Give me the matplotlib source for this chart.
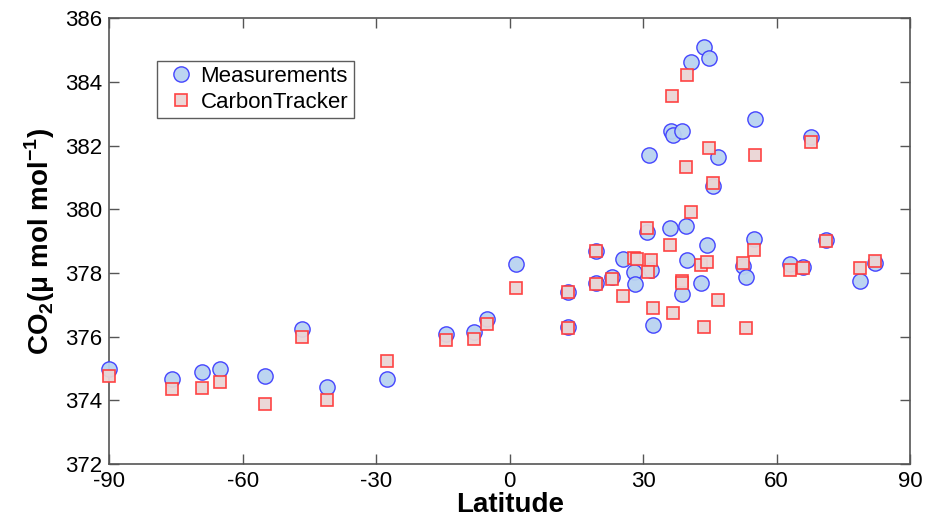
import numpy as np
import matplotlib
matplotlib.use("Agg")
import matplotlib.pyplot as plt

plt.rcParams['font.family'] = ['Liberation Sans', 'DejaVu Sans']
plt.rcParams['mathtext.fontset'] = 'custom'
plt.rcParams['mathtext.rm'] = 'Liberation Sans'
plt.rcParams['mathtext.bf'] = 'Liberation Sans:bold'
plt.rcParams['axes.unicode_minus'] = False

# --- DATA ---
lat_meas = [-90, -75.9, -69.1, -65.1, -55.0, -46.7, -41.0, -27.5, -14.4, -8.1, -5.0,
            1.5, 13.0, 13.1, 19.3, 19.3, 23.0, 25.5, 27.9, 28.1, 31.8, 30.8, 31.2,
            32.1, 36.1, 36.3, 36.6, 38.8, 39.6, 39.8, 38.7, 40.8, 42.9, 43.7, 44.3,
            44.7, 45.8, 46.7, 52.4, 53.0, 54.8, 55.1, 63.0, 65.8, 67.7, 71.0, 78.7, 82.2]
co2_meas = [374.98, 374.68, 374.89, 374.98, 374.75, 376.24, 374.41, 374.67, 376.08,
            376.16, 376.56, 378.28, 377.39, 376.29, 378.68, 377.67, 377.86, 378.43,
            378.03, 377.65, 378.10, 379.27, 381.71, 376.36, 379.40, 382.46, 382.33,
            382.45, 379.48, 378.41, 377.34, 384.63, 377.67, 385.08, 378.89, 384.74,
            380.73, 381.64, 378.22, 377.88, 379.05, 382.82, 378.28, 378.19, 382.27,
            379.04, 377.75, 378.32]

lat_ct = [-90, -75.9, -69.1, -65.1, -55.0, -46.7, -41.0, -27.5, -14.4, -8.1, -5.0,
          1.5, 13.0, 13.1, 19.3, 19.3, 23.0, 25.5, 27.9, 28.6, 31.8, 31.1, 30.8,
          32.1, 36.1, 36.6, 36.5, 39.8, 39.6, 40.7, 38.7, 38.8, 43.0, 44.3, 43.7,
          44.8, 45.8, 46.8, 52.4, 53.1, 54.8, 55.2, 63.0, 65.8, 67.7, 71.0, 78.7, 82.2]
co2_ct = [374.75, 374.36, 374.40, 374.58, 373.89, 375.99, 374.01, 375.23, 375.88,
          375.93, 376.39, 377.54, 377.40, 376.27, 378.68, 377.64, 377.80, 377.27,
          378.48, 378.45, 378.41, 378.03, 379.42, 376.91, 378.87, 376.75, 383.57,
          384.23, 381.33, 379.90, 377.74, 377.68, 378.26, 378.34, 376.31, 381.92,
          380.81, 377.15, 378.31, 376.27, 378.72, 381.70, 378.09, 378.17, 382.10,
          379.01, 378.15, 378.36]

x_ticks = [-90, -60, -30, 0, 30, 60, 90]
y_ticks = [372, 374, 376, 378, 380, 382, 384, 386]

fig = plt.figure(figsize=(9.25, 5.19), dpi=100)
ax = fig.add_axes([0.118, 0.106, 0.866, 0.859])

ax.plot(lat_meas, co2_meas, 'o', ms=11, mfc='#b9d3f1', mec='#3c3cff', mew=1.0,
        alpha=0.95, label='Measurements', clip_on=False, zorder=3)
ax.plot(lat_ct, co2_ct, 's', ms=9, mfc='#ead5d5', mec='#ff3a3a', mew=1.2,
        alpha=0.95, label='CarbonTracker', clip_on=False, zorder=4)

ax.set_xlim(-90, 90)
ax.set_ylim(372, 386)
ax.set_xticks(x_ticks)
ax.set_yticks(y_ticks)
ax.tick_params(direction='in', length=7, width=1, color='#555555', labelsize=16,
               top=True, right=True, pad=5)
for s in ax.spines.values():
    s.set_color('#555555')
    s.set_linewidth(1.2)

ax.set_xlabel('Latitude', fontsize=20, fontweight='bold', labelpad=0)
ax.set_ylabel('CO$_\\mathbf{2}$(μ mol mol$^{\\mathbf{-1}}$)', fontsize=20,
              fontweight='bold', labelpad=6)

leg = ax.legend(loc='upper left', bbox_to_anchor=(0.06, 0.905), fontsize=16,
                frameon=True, fancybox=False, borderpad=0.25, handletextpad=0.1,
                labelspacing=0.2, handlelength=1.6, borderaxespad=0)
leg.get_frame().set_edgecolor('#333333')
leg.get_frame().set_linewidth(1.0)
leg.set_zorder(5)

fig.savefig('out.png', dpi=100)
